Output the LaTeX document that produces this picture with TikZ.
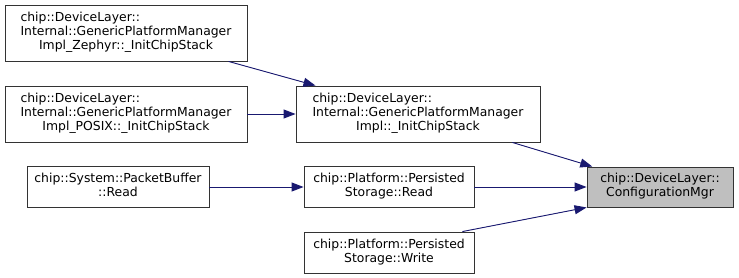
\documentclass[tikz,border=0pt]{standalone}
\usepackage{fontspec}
\setmainfont{DejaVu Sans}
\usetikzlibrary{arrows.meta,calc}
\definecolor{edgeblue}{HTML}{191970}
\definecolor{boxline}{HTML}{333333}
\definecolor{hilite}{HTML}{BFBFBF}
% label lines: all but the last one flush left, the last one centred
\newcommand\lastln[1]{\multicolumn{1}{@{}c@{}}{#1}}
\newenvironment{lbl}{\begin{tabular}{@{}l@{}}}{\end{tabular}}
\begin{document}
\begin{tikzpicture}[x=1pt,y=-1pt,
  fn/.style={draw=boxline,line width=0.9pt,fill=white,inner sep=0pt,
    font=\fontsize{12.4}{14}\selectfont,text=black},
  call/.style={draw=edgeblue,line width=0.9pt,
    -{Triangle[length=12pt,width=9pt]},fill=edgeblue}]
\useasboundingbox (0,0) rectangle (739,278);
\node[fn,minimum width=242pt,minimum height=56pt] (zeph) at (126,33)
  {\begin{lbl}chip::DeviceLayer::\\Internal::GenericPlatformManager\\\lastln{Impl\_Zephyr::\_InitChipStack}\end{lbl}};
\node[fn,minimum width=242pt,minimum height=56pt] (posix) at (126,114)
  {\begin{lbl}chip::DeviceLayer::\\Internal::GenericPlatformManager\\\lastln{Impl\_POSIX::\_InitChipStack}\end{lbl}};
\node[fn,minimum width=244pt,minimum height=56pt] (impl) at (418,114)
  {\begin{lbl}chip::DeviceLayer::\\Internal::GenericPlatformManager\\\lastln{Impl::\_InitChipStack}\end{lbl}};
\node[fn,minimum width=182pt,minimum height=41pt] (pbuf) at (118,187)
  {\begin{lbl}chip::System::PacketBuffer\\\lastln{::Read}\end{lbl}};
\node[fn,minimum width=170pt,minimum height=41pt] (psread) at (389,187)
  {\begin{lbl}chip::Platform::Persisted\\\lastln{Storage::Read}\end{lbl}};
\node[fn,minimum width=170pt,minimum height=41pt] (pswrite) at (389,252.5)
  {\begin{lbl}chip::Platform::Persisted\\\lastln{Storage::Write}\end{lbl}};
\node[fn,fill=hilite,minimum width=146pt,minimum height=40pt] (cfg) at (660,187)
  {\begin{lbl}chip::DeviceLayer::\\\lastln{ConfigurationMgr}\end{lbl}};
\draw[call] (zeph) -- (impl);
\draw[call] (posix) -- (impl);
\draw[call] (impl) -- (cfg);
\draw[call] (pbuf) -- (psread);
\draw[call] (psread) -- (cfg);
\draw[call] ($(pswrite.north east)+(-12,0)$) -- (cfg.south west);
\end{tikzpicture}
\end{document}
